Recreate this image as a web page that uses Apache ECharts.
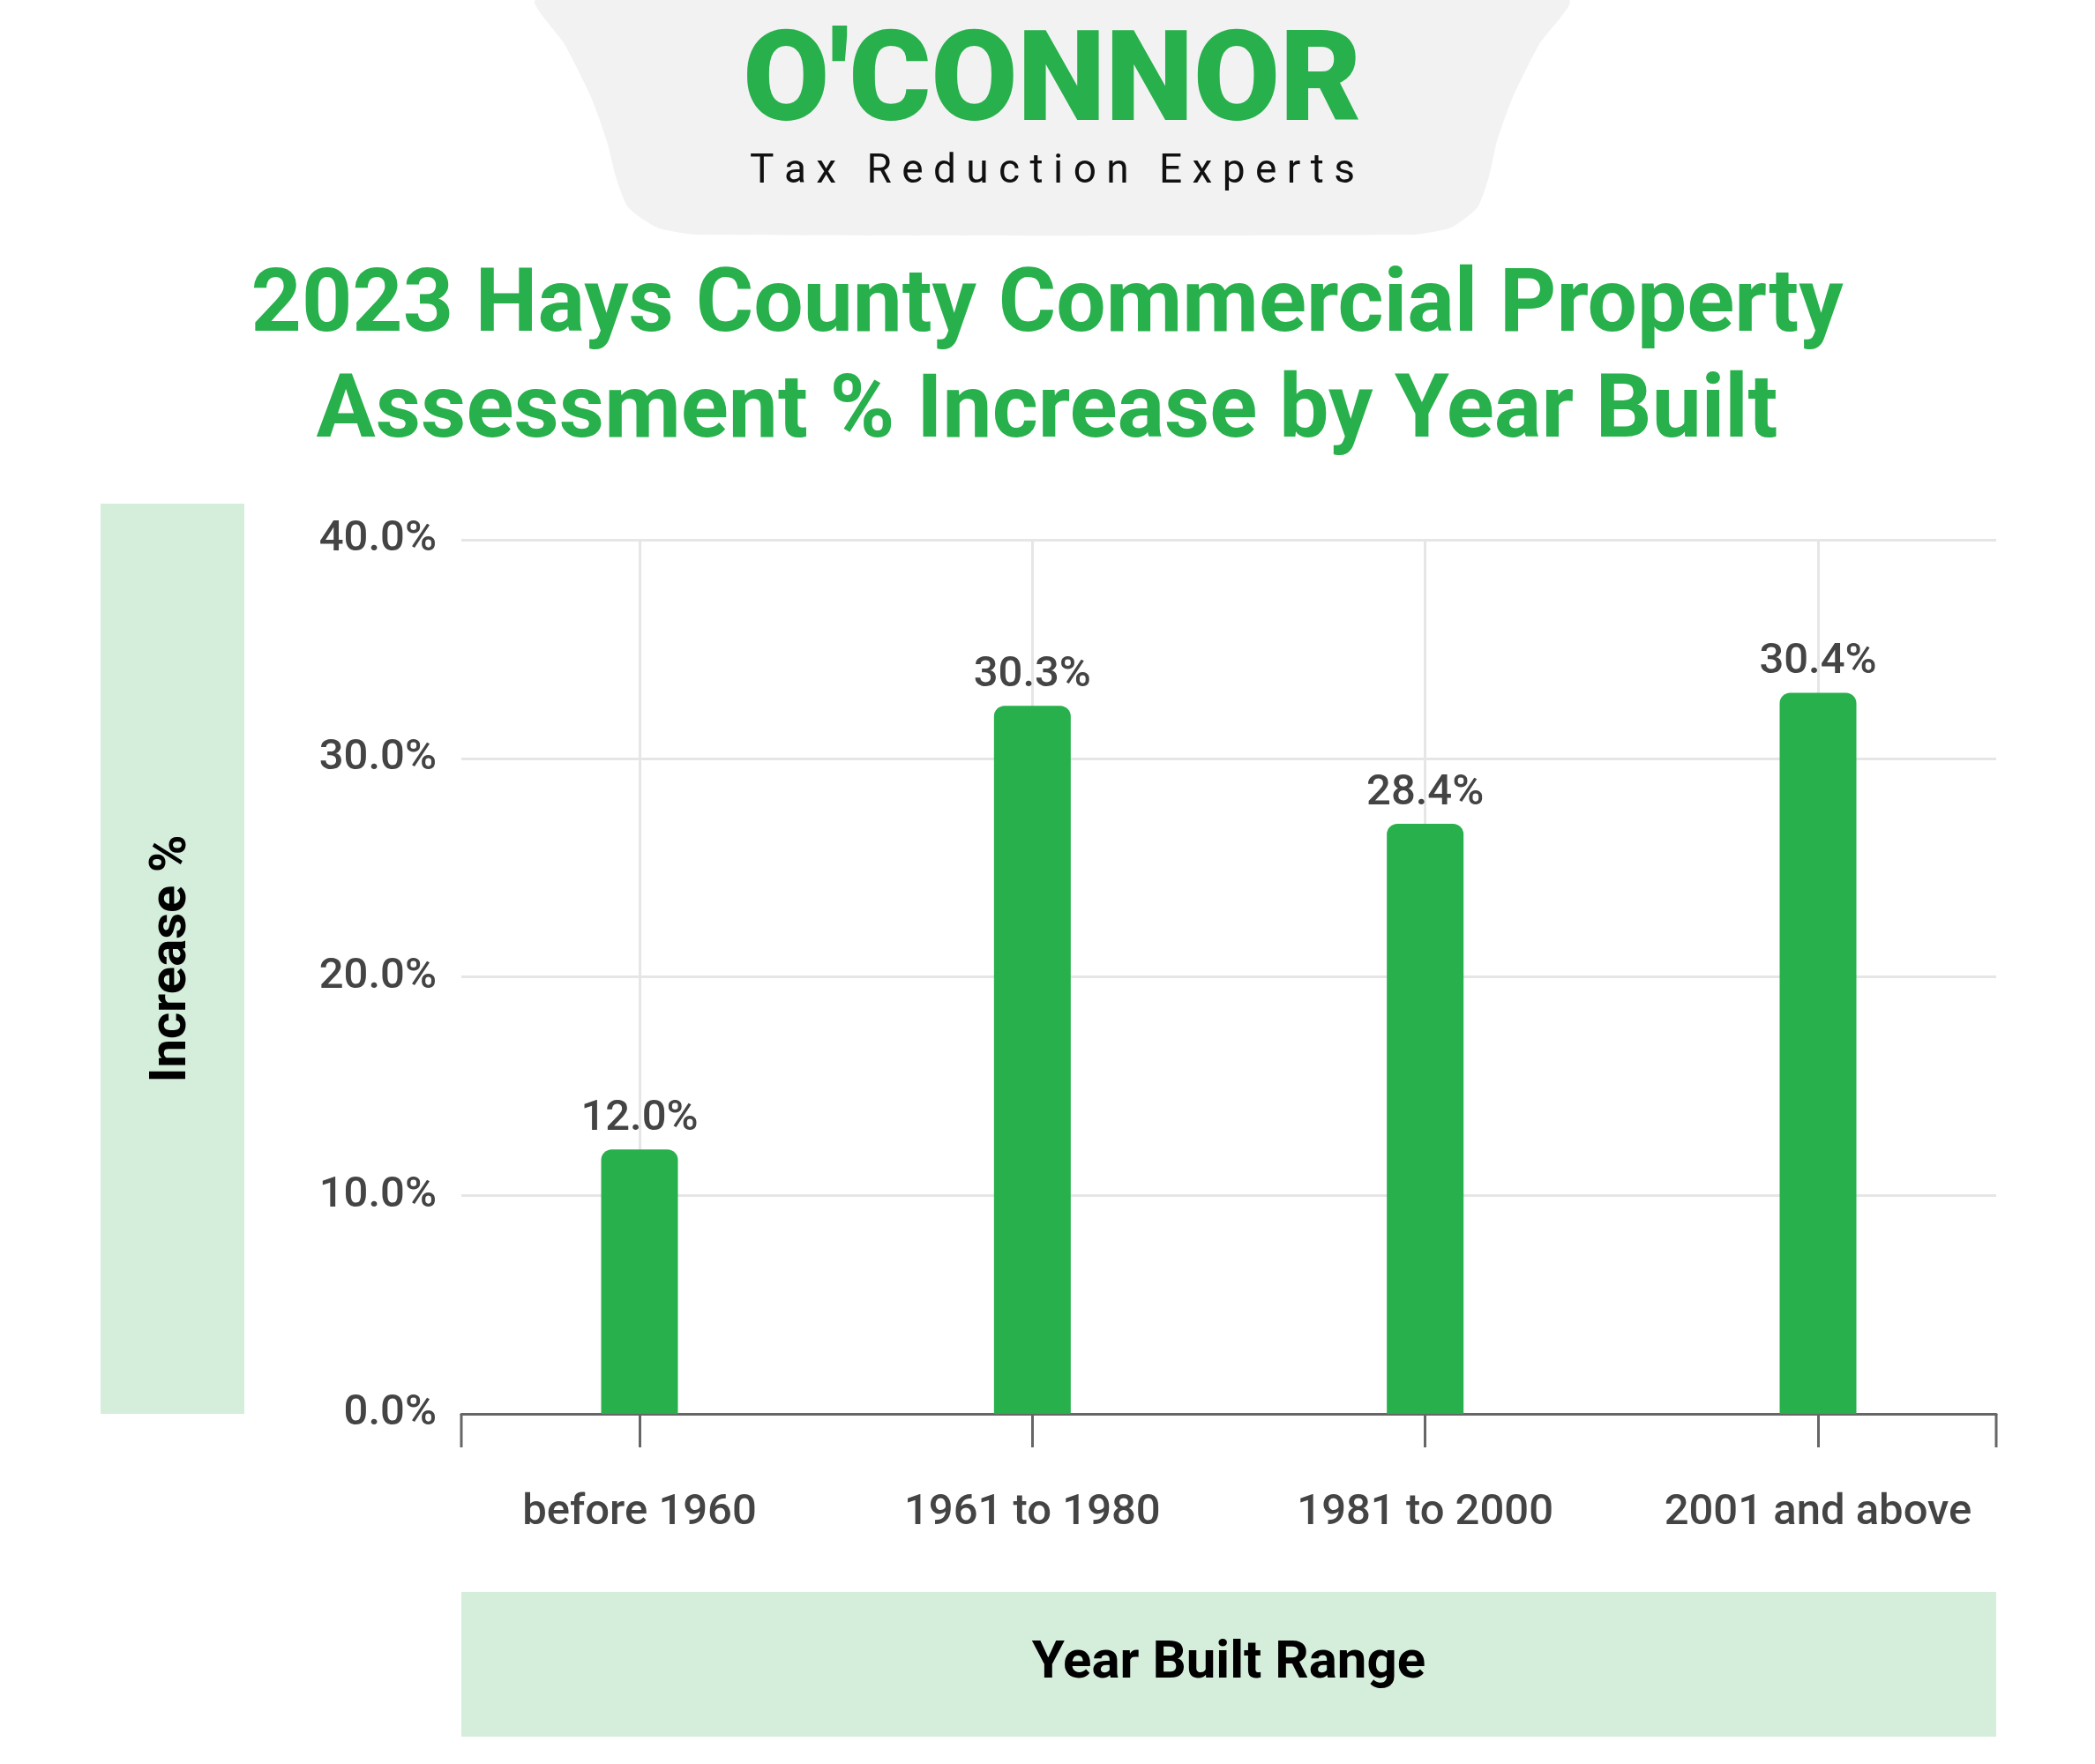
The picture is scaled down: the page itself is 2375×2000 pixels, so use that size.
<!DOCTYPE html>
<html>
<head>
<meta charset="utf-8">
<script src="https://cdn.jsdelivr.net/npm/echarts@6/dist/echarts.min.js"></script>
<style>html,body{margin:0;background:#fff}#chart{width:2375px;height:2000px}</style>
</head>
<body>
<div id="chart"></div>
<script>
// data
var categories = ['before 1960', '1961 to 1980', '1981 to 2000', '2001 and above'];
var barValues = [12.1, 32.4, 27.0, 33.0];          // bar heights as drawn
var barLabels = ['12.0%', '30.3%', '28.4%', '30.4%']; // printed labels
var yTicks = [0, 10, 20, 30, 40];

var green = '#27b04b';
var font = 'Roboto';
var tickFont = {color: '#444', fontSize: 49, fontWeight: 500};

// grey header shape outline
var headerPts = [[608, 0], [1778, 0], [1745, 50], [1715, 110], [1697, 160], [1688, 200],
    [1675, 235], [1645, 258], [1600, 266], [790, 266], [745, 258], [712, 235], [698, 200],
    [688, 160], [670, 110], [640, 50]];

var yMin = yTicks[0], yMax = yTicks[yTicks.length - 1];

var chart = echarts.init(document.getElementById('chart'));
chart.setOption({
    backgroundColor: '#fff',
    textStyle: {fontFamily: font},
    grid: [
        {left: 725, right: 314, top: 612, bottom: 397},   // bars
        {left: 523, right: 112, top: 612, bottom: 397}    // frame
    ],
    xAxis: [{
        type: 'category', gridIndex: 0, boundaryGap: false,
        data: categories,
        axisLine: {show: false},
        axisTick: {interval: 0, length: 38, lineStyle: {color: '#666', width: 3}},
        axisLabel: Object.assign({interval: 0, hideOverlap: false, margin: 88}, tickFont),
        splitLine: {show: true, interval: 0, lineStyle: {color: '#e6e6e6', width: 3}}
    }, {
        type: 'category', gridIndex: 1, data: categories,
        axisLine: {lineStyle: {color: '#666', width: 3}},
        axisTick: {show: false}, axisLabel: {show: false}, splitLine: {show: false}
    }],
    yAxis: [{
        type: 'value', gridIndex: 0, min: yMin, max: yMax, interval: 10,
        show: false, splitLine: {show: false}
    }, {
        type: 'value', gridIndex: 1, min: yMin, max: yMax, interval: 10,
        axisLine: {show: false}, axisTick: {show: false},
        axisLabel: Object.assign({margin: 28, formatter: function (v) { return v.toFixed(1) + '%'; }}, tickFont),
        splitLine: {lineStyle: {color: '#e6e6e6', width: 3}}
    }],
    series: [{
        type: 'bar', xAxisIndex: 0, yAxisIndex: 0,
        data: barValues,
        barWidth: 87,
        z: 5,
        itemStyle: {color: green, borderRadius: [12, 12, 0, 0]},
        label: Object.assign({show: true, position: 'top', distance: 10,
            formatter: function (p) { return barLabels[p.dataIndex]; }}, tickFont)
    }],
    graphic: [
        {type: 'polygon', shape: {points: headerPts, smooth: 0.2}, style: {fill: '#f2f2f2'}, z: 0},
        {type: 'text', x: 1193, y: 100, style: {text: "O'CONNOR", fill: green, font: '900 142px ' + font, textAlign: 'center', textVerticalAlign: 'middle'}},
        {type: 'text', x: 1193, y: 195, style: {text: 'T a x   R e d u c t i o n   E x p e r t s', fill: '#111', font: '400 46px ' + font, textAlign: 'center', textVerticalAlign: 'middle'}},
        {type: 'text', x: 1187, y: 350, style: {text: '2023 Hays County Commercial Property', fill: green, font: 'bold 100px ' + font, textAlign: 'center', textVerticalAlign: 'middle'}},
        {type: 'text', x: 1187, y: 470, style: {text: 'Assessment % Increase by Year Built', fill: green, font: 'bold 100px ' + font, textAlign: 'center', textVerticalAlign: 'middle'}},
        {type: 'rect', shape: {x: 114, y: 571, width: 163, height: 1032}, style: {fill: '#d5eedb'}},
        {type: 'text', x: 195, y: 1087, rotation: Math.PI / 2, style: {text: 'Increase %', fill: '#000', font: 'bold 58px ' + font, textAlign: 'center', textVerticalAlign: 'middle'}},
        {type: 'rect', shape: {x: 523, y: 1805, width: 1740, height: 164}, style: {fill: '#d5eedb'}},
        {type: 'text', x: 1393, y: 1887, style: {text: 'Year Built Range', fill: '#000', font: 'bold 60px ' + font, textAlign: 'center', textVerticalAlign: 'middle'}},
        {type: 'line', shape: {x1: 523, y1: 1603, x2: 523, y2: 1641}, style: {stroke: '#666', lineWidth: 3}},
        {type: 'line', shape: {x1: 2263, y1: 1603, x2: 2263, y2: 1641}, style: {stroke: '#666', lineWidth: 3}}
    ]
});
</script>
</body>
</html>
